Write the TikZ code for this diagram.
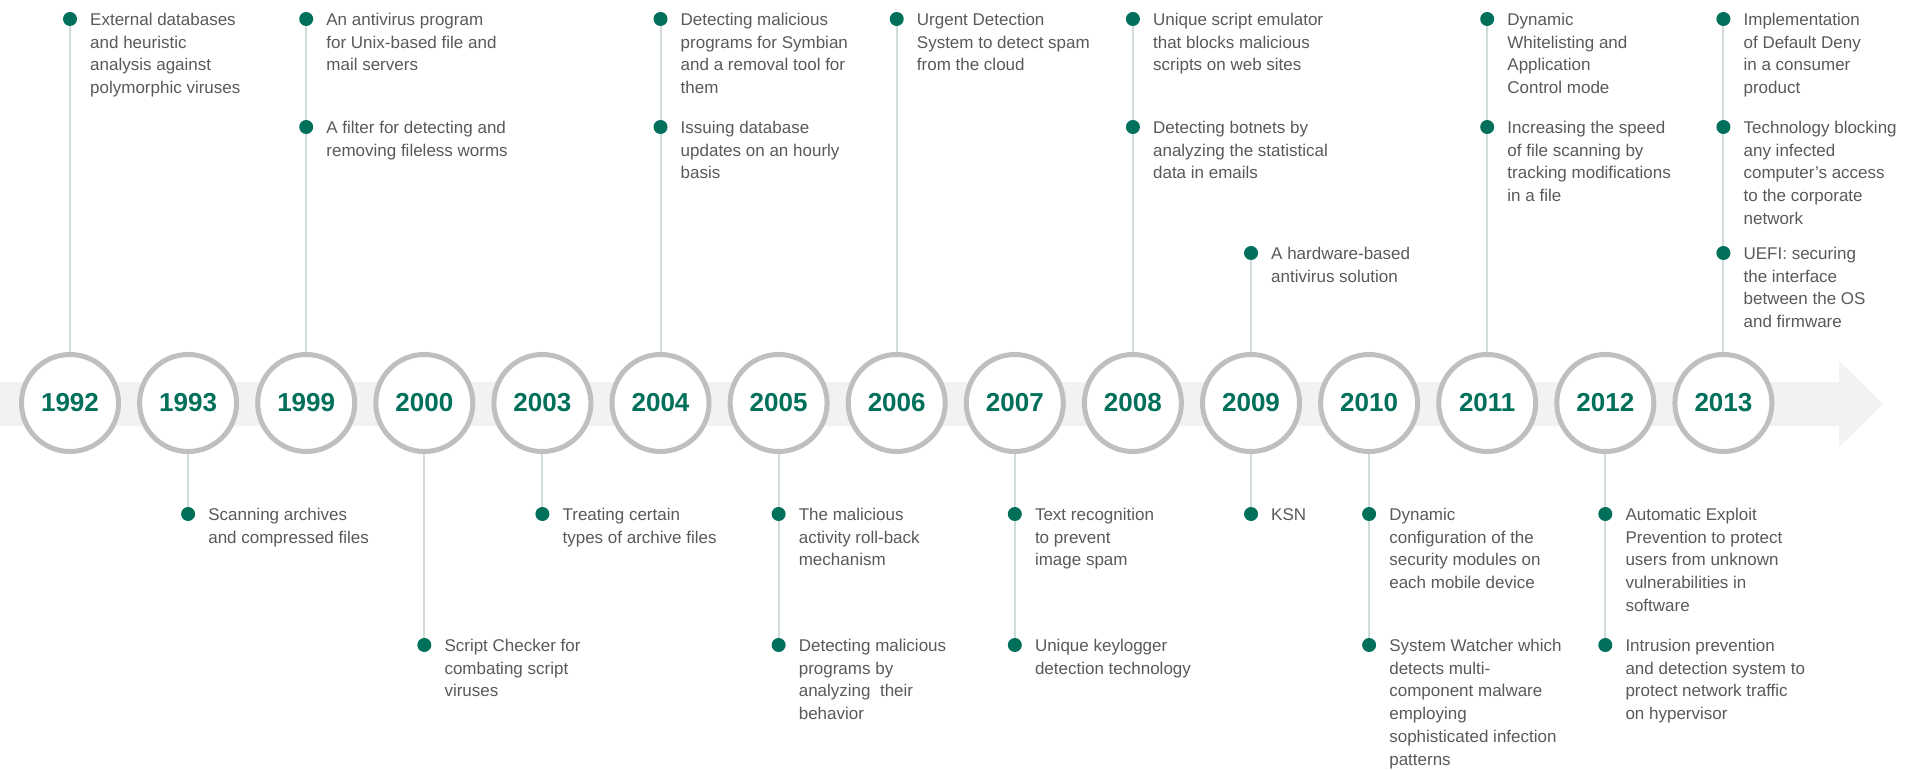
\documentclass[tikz,border=0pt]{standalone}
\usepackage{fontspec}
\setmainfont{Liberation Sans}
\definecolor{klgreen}{HTML}{00705A}
\definecolor{ringgray}{HTML}{BFBFBF}
\definecolor{bandgray}{HTML}{F2F2F2}
\definecolor{linegray}{HTML}{CFDCD9}
\definecolor{txtgray}{HTML}{595959}

\begin{document}
\begin{tikzpicture}[x=1pt,y=-1pt,
  year/.style={circle,draw=ringgray,line width=5pt,fill=white,minimum size=97pt,inner sep=0pt,
    text=klgreen,font=\fontsize{26}{30}\selectfont\bfseries},
  dot/.style={circle,fill=klgreen,minimum size=14pt,inner sep=0pt},
  desc/.style={anchor=north west,align=left,inner sep=0pt,text=txtgray,
    font=\fontsize{17}{22.7}\selectfont,execute at begin node=\strut},
  conn/.style={draw=linegray,line width=2pt}]
\useasboundingbox (0,0) rectangle (1905,770);
\fill[bandgray] (0,382) -- (1839,382) -- (1839,361) -- (1883,404) -- (1839,447) -- (1839,426) -- (0,426) -- cycle;
\foreach \yr [count=\i from 0] in {1992,1993,1999,2000,2003,2004,2005,2006,2007,2008,2009,2010,2011,2012,2013}
  \node[year] (y\yr) at (70+118.1*\i,403) {\yr};
\foreach \yr/\lv/\yy/\txt in {
  1992/a/19/{External databases\\and heuristic\\analysis against\\polymorphic viruses},
  1999/a/19/{An antivirus program\\for Unix-based file and\\mail servers},
  1999/b/127/{A filter for detecting and\\removing fileless worms},
  2004/a/19/{Detecting malicious\\programs for Symbian\\and a removal tool for\\them},
  2004/b/127/{Issuing database\\updates on an hourly\\basis},
  2006/a/19/{Urgent Detection\\System to detect spam\\from the cloud},
  2008/a/19/{Unique script emulator\\that blocks malicious\\scripts on web sites},
  2008/b/127/{Detecting botnets by\\analyzing the statistical\\data in emails},
  2009/c/253/{A hardware-based\\antivirus solution},
  2011/a/19/{Dynamic\\Whitelisting and\\Application\\Control mode},
  2011/b/127/{Increasing the speed\\of file scanning by\\tracking modifications\\in a file},
  2013/a/19/{Implementation\\of Default Deny\\in a consumer\\product},
  2013/b/127/{Technology blocking\\any infected\\computer’s access\\to the corporate\\network},
  2013/c/253/{UEFI: securing\\the interface\\between the OS\\and firmware},
  1993/p/514/{Scanning archives\\and compressed files},
  2000/q/645/{Script Checker for\\combating script\\viruses},
  2003/p/514/{Treating certain\\types of archive files},
  2005/p/514/{The malicious\\activity roll-back\\mechanism},
  2005/q/645/{Detecting malicious\\programs by\\analyzing~ their\\behavior},
  2007/p/514/{Text recognition\\to prevent\\image spam},
  2007/q/645/{Unique keylogger\\detection technology},
  2009/p/514/{KSN\\},
  2010/p/514/{Dynamic\\configuration of the\\security modules on\\each mobile device},
  2010/q/645/{System Watcher which\\detects multi-\\component malware\\employing\\sophisticated infection\\patterns},
  2012/p/514/{Automatic Exploit\\Prevention to protect\\users from unknown\\vulnerabilities in\\software},
  2012/q/645/{Intrusion prevention\\and detection system to\\protect network traffic\\on hypervisor}}
{
  \node[dot] (d\yr\lv) at (y\yr |- 0,\yy) {};
  \node[desc] (t\yr\lv) at ([shift={(20,-6)}]d\yr\lv.center) {\txt};
}
\foreach \a/\b in {d1992a/y1992,d1999a/d1999b,d1999b/y1999,d2004a/d2004b,d2004b/y2004,
  d2006a/y2006,d2008a/d2008b,d2008b/y2008,d2009c/y2009,d2011a/d2011b,d2011b/y2011,
  d2013a/d2013b,d2013b/d2013c,d2013c/y2013,y1993/d1993p,y2000/d2000q,y2003/d2003p,
  y2005/d2005p,d2005p/d2005q,y2007/d2007p,d2007p/d2007q,y2009/d2009p,
  y2010/d2010p,d2010p/d2010q,y2012/d2012p,d2012p/d2012q}
  \draw[conn] (\a) -- (\b);
\end{tikzpicture}
\end{document}
